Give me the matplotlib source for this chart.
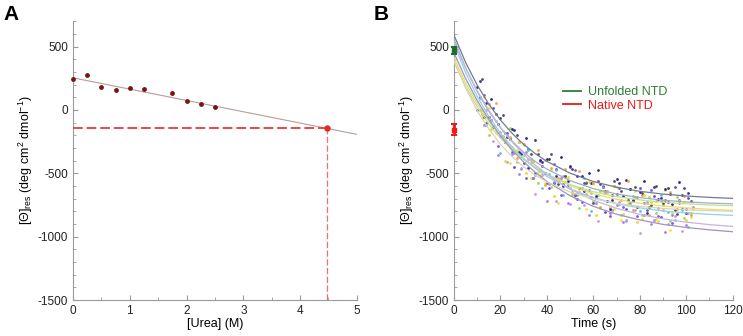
import matplotlib
matplotlib.use("Agg")
import matplotlib.pyplot as plt
from matplotlib.ticker import MultipleLocator

plt.rcParams['font.family'] = ['Liberation Sans', 'DejaVu Sans']
plt.rcParams['mathtext.default'] = 'regular'
plt.rcParams['axes.unicode_minus'] = False

# ---------------- panel A data ----------------
urea = [0, 0.25, 0.5, 0.75, 1.0, 1.25, 1.75, 2.0, 2.25, 2.5]
theta_a = [242, 276, 182, 159, 169, 167, 130, 68, 47, 23]
fit_x = [0, 5]
fit_y = [253, -193]
extrap_x = 4.47
extrap_y = -142

# ---------------- panel B data ----------------
t_fit = [0, 5, 10, 15, 20, 25, 30, 35, 40, 50, 60, 70, 80, 90, 100, 110, 120]
fits = {
    '#6e7e8e': [590, 375, 196, 46, -80, -184, -272, -345, -406, -499, -565, -610, -642, -664, -679, -690, -698],
    '#9fb0c0': [560, 332, 144, -11, -140, -246, -334, -407, -467, -558, -621, -663, -692, -712, -726, -735, -741],
    '#e6de6a': [410, 214, 50, -88, -204, -301, -383, -451, -509, -598, -661, -705, -736, -758, -773, -784, -792],
    '#c2e08a': [380, 186, 25, -110, -221, -314, -391, -455, -508, -589, -645, -684, -710, -729, -741, -750, -756],
    '#8fd2ea': [520, 294, 106, -51, -183, -292, -384, -461, -525, -624, -692, -740, -773, -797, -813, -824, -832],
    '#c4b4e2': [540, 331, 151, -3, -137, -252, -350, -435, -508, -625, -712, -776, -824, -859, -885, -905, -919],
    '#a092c4': [450, 248, 74, -75, -204, -316, -410, -492, -564, -677, -761, -823, -868, -903, -927, -946, -961],
    '#dcd4b4': [390, 173, -6, -151, -271, -368, -449, -514, -568, -648, -701, -737, -761, -777, -788, -795, -800],
}

t_a = [11, 14, 17, 20, 23, 26, 29, 32, 35, 38, 41, 44, 47, 50, 53, 56, 59, 62, 65, 68, 71, 74, 77, 80, 83, 86, 89, 92, 95, 98, 101]
t_b = [12, 15, 18, 21, 24, 27, 30, 33, 36, 39, 42, 45, 48, 51, 54, 57, 60, 63, 66, 69, 72, 75, 78, 81, 84, 87, 90, 93, 96, 99, 102]
t_c = [10, 13, 16, 19, 22, 25, 28, 31, 34, 37, 40, 43, 46, 49, 52, 55, 58, 61, 64, 67, 70, 73, 76, 79, 82, 85, 88, 91, 94, 97, 100]
t_d = [13, 16, 19, 22, 25, 28, 31, 34, 37, 40, 43, 46, 49, 52, 55, 58, 61, 64, 67, 70, 73, 76, 79, 82, 85, 88, 91, 94, 97, 100, 103]

pts_purple = [101, -107, 14, -207, -181, -448, -339, -306, -497, -444, -617, -468, -584, -449, -700, -580, -687, -563, -807, -670, -620, -780, -720, -618, -786, -682, -848, -724, -608, -783, -697]
pts_yellow = [-59, 13, -186, -167, -421, -318, -279, -536, -487, -574, -477, -738, -564, -659, -640, -780, -587, -773, -657, -780, -870, -720, -640, -858, -776, -862, -718, -944, -778, -723, -847]
pts_indigo = [231, 53, -136, -67, -211, -158, -349, -456, -237, -414, -387, -518, -604, -439, -520, -640, -577, -473, -637, -710, -580, -550, -710, -648, -816, -612, -698, -614, -788, -673, -657]
pts_green = [1, -197, -86, -207, -141, -408, -359, -386, -577, -394, -607, -558, -524, -669, -770, -570, -717, -643, -717, -600, -830, -740, -690, -828, -686, -812, -748, -874, -688, -853, -817]
pts_cyan = [91, -117, -126, -337, -201, -338, -469, -316, -517, -614, -507, -478, -674, -619, -670, -540, -797, -673, -657, -790, -740, -880, -680, -798, -726, -872, -668, -804, -868, -793, -927]
pts_orange = [-29, 43, 54, -217, -211, -378, -269, -416, -317, -594, -457, -538, -464, -649, -480, -660, -577, -763, -637, -600, -710, -560, -790, -668, -826, -722, -788, -644, -778, -683, -827]
pts_lavender = [1, 3, -246, -177, -411, -328, -459, -386, -667, -514, -587, -718, -524, -739, -660, -750, -657, -873, -657, -790, -730, -870, -790, -968, -736, -872, -718, -904, -838, -953, -817]
pts_gray = [241, -57, -36, -37, -231, -198, -419, -346, -347, -494, -347, -588, -524, -469, -620, -580, -737, -583, -717, -560, -640, -710, -610, -658, -766, -602, -738, -664, -818, -613, -717]
pts_violet = [3, 121, -81, -284, -180, -329, -253, -540, -404, -402, -577, -428, -675, -591, -473, -723, -631, -698, -602, -835, -667, -768, -627, -836, -733, -630, -836, -711, -896, -712, -785]
pts_gold = [101, -151, -114, -400, -289, -253, -500, -404, -512, -387, -678, -555, -531, -693, -663, -571, -828, -642, -765, -607, -818, -737, -886, -673, -730, -876, -631, -816, -722, -865, -778]
pts_navy = [183, -59, 89, -114, -250, -149, -333, -220, -534, -392, -387, -578, -375, -561, -673, -523, -501, -678, -612, -785, -547, -678, -627, -766, -563, -750, -706, -621, -746, -572, -815]
pts_lilac = [-119, -81, -354, -240, -349, -503, -330, -534, -472, -717, -568, -535, -731, -663, -613, -831, -738, -612, -815, -747, -888, -737, -686, -833, -900, -776, -961, -826, -732, -905, -768]

unfolded_mean, unfolded_err = 470, 28
native_mean, native_err = -155, 45

fig = plt.figure(figsize=(7.43, 3.36), dpi=100)
axA = fig.add_axes([0.0983, 0.107, 0.382, 0.83])
axB = fig.add_axes([0.611, 0.107, 0.375, 0.83])


def style(ax):
    for s in ['top', 'right']:
        ax.spines[s].set_visible(False)
    for s in ['left', 'bottom']:
        ax.spines[s].set_color('#9a9a9a')
        ax.spines[s].set_linewidth(0.8)
    ax.tick_params(which='both', direction='in', color='#9a9a9a', labelsize=8.5, labelcolor='#222222')
    ax.tick_params(which='major', length=3.5, width=0.8)
    ax.tick_params(which='minor', length=2, width=0.6)
    ax.set_ylim(-1500, 700)
    ax.yaxis.set_major_locator(MultipleLocator(500))
    ax.yaxis.set_minor_locator(MultipleLocator(100))
    ax.set_ylabel('[Θ]$_{res}$ (deg cm$^{2}$ dmol$^{-1}$)', fontsize=9, labelpad=2)


# ---- A ----
style(axA)
axA.set_xlim(0, 5)
axA.xaxis.set_major_locator(MultipleLocator(1))
axA.xaxis.set_minor_locator(MultipleLocator(0.5))
axA.plot(fit_x, fit_y, color='#b89c9c', lw=0.8, zorder=2)
axA.plot([0, extrap_x], [extrap_y, extrap_y], color='#e84848', lw=1.4, ls=(0, (5, 2)), zorder=3)
axA.plot([extrap_x, extrap_x], [-1500, extrap_y], color='#f07070', lw=0.9, ls=(0, (5, 2)), zorder=3)
axA.scatter(urea, theta_a, s=6, color='#7a1212', zorder=4, clip_on=False)
axA.scatter([extrap_x], [extrap_y], s=13, color='#e82828', zorder=5)
axA.set_xlabel('[Urea] (M)', fontsize=9, labelpad=1)

# ---- B ----
style(axB)
axB.set_xlim(0, 120)
axB.xaxis.set_major_locator(MultipleLocator(20))
axB.xaxis.set_minor_locator(MultipleLocator(10))

scatter_sets = [
    (t_a, pts_purple, '#6a48c8'),
    (t_b, pts_yellow, '#f2e23c'),
    (t_a, pts_indigo, '#3a2e9a'),
    (t_b, pts_green, '#9ad85a'),
    (t_a, pts_cyan, '#58c4f0'),
    (t_b, pts_orange, '#f2a444'),
    (t_a, pts_lavender, '#c896e6'),
    (t_b, pts_gray, '#505068'),
    (t_c, pts_violet, '#7d5ae0'),
    (t_d, pts_gold, '#e8d830'),
    (t_c, pts_navy, '#2a2a80'),
    (t_d, pts_lilac, '#b080d8'),
]
for tt, yy, c in scatter_sets:
    axB.scatter(tt, yy, s=4, color=c, linewidths=0, zorder=2)

for c, vals in fits.items():
    axB.plot(t_fit, vals, color=c, lw=0.9, zorder=3)

axB.errorbar([0], [unfolded_mean], yerr=[unfolded_err], fmt='s', ms=2.5, color='#1f6e2a',
             elinewidth=2, capsize=2, capthick=1.5, clip_on=False, zorder=5)
axB.errorbar([0], [native_mean], yerr=[native_err], fmt='s', ms=2.5, color='#f01818',
             elinewidth=2, capsize=2, capthick=1.5, clip_on=False, zorder=5)

hu, = axB.plot([], [], color='#2e7d3a', lw=1.3, label='Unfolded NTD')
hn, = axB.plot([], [], color='#f01818', lw=1.3, label='Native NTD')
leg = axB.legend(handles=[hu, hn], loc='upper left', bbox_to_anchor=(0.37, 0.79), frameon=False,
                 fontsize=9, handlelength=1.4, handletextpad=0.6, labelspacing=0.15, borderpad=0)
for txt, c in zip(leg.get_texts(), ['#2e7d3a', '#f01818']):
    txt.set_color(c)
axB.set_xlabel('Time (s)', fontsize=9, labelpad=1)

fig.text(0.005, 0.985, 'A', fontsize=15, fontweight='bold', va='top')
fig.text(0.503, 0.985, 'B', fontsize=15, fontweight='bold', va='top')

fig.savefig('out.png', dpi=100)
